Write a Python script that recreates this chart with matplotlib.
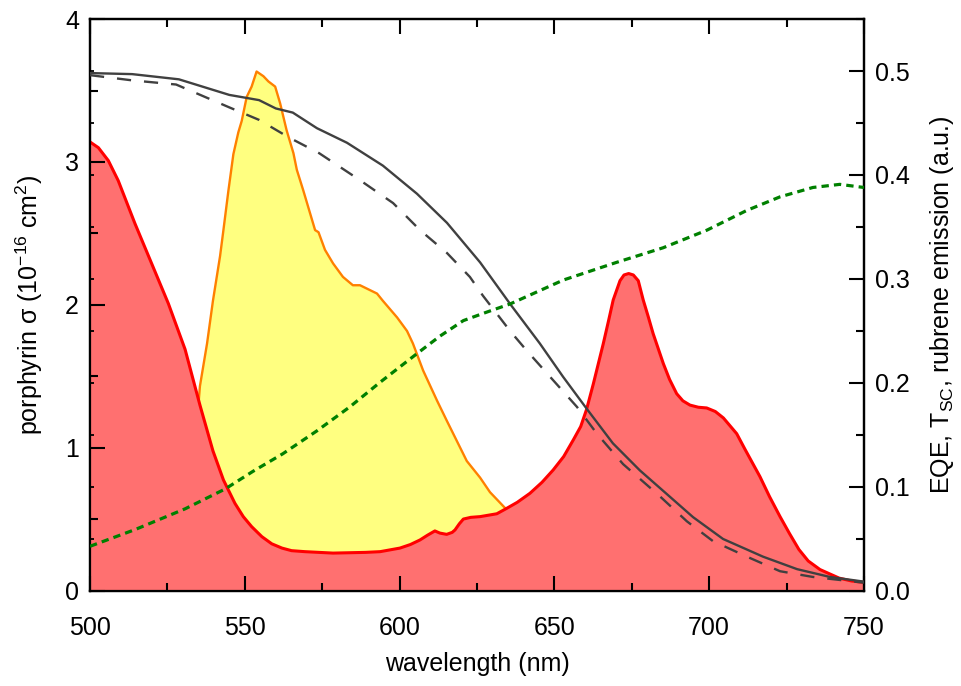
import matplotlib
matplotlib.use("Agg")
import matplotlib.pyplot as plt
from matplotlib.ticker import MultipleLocator

plt.rcParams['font.family'] = ['Liberation Sans', 'DejaVu Sans']
plt.rcParams['mathtext.fontset'] = 'custom'
plt.rcParams['mathtext.rm'] = 'Liberation Sans'
plt.rcParams['mathtext.it'] = 'Liberation Sans'
plt.rcParams['mathtext.default'] = 'regular'

# porphyrin absorption cross-section (left axis, 1e-16 cm^2)
por_wl = [500, 502.7, 505.9, 509.1, 514.5, 519.9, 525.3, 530.7, 535.5, 539.7, 543.1,
          546.8, 549.5, 552.2, 555.5, 558.7, 562, 565.1, 569.4, 578.5, 589, 593.7, 600.1, 603.5,
          606.6, 609, 611.4, 613, 615.2, 617, 617.9, 619.3, 620.6, 623, 626, 631.4, 634.6, 638,
          642.1, 646, 649.6, 653, 656.1, 658.5, 660.4, 662.6, 665.8, 667.5, 669.0, 671.2, 672.5,
          674.0, 675.5, 677.1, 678.7, 680.3, 681.9, 685.2, 687.2, 689.5, 691.5, 693.8, 696.5,
          699.2, 702, 704.6, 708.9, 711.6, 716.4, 719.5, 722.9, 726, 729, 732, 735.8, 742, 746, 750]
por_sig = [3.14, 3.10, 3.01, 2.87, 2.57, 2.29, 2.01, 1.69, 1.30, 0.98, 0.776,
           0.613, 0.52, 0.45, 0.38, 0.33, 0.30, 0.282, 0.275, 0.265, 0.27, 0.275, 0.30, 0.325,
           0.357, 0.39, 0.42, 0.405, 0.396, 0.41, 0.427, 0.47, 0.503, 0.515, 0.52, 0.54, 0.578, 0.62,
           0.683, 0.76, 0.846, 0.94, 1.056, 1.15, 1.27, 1.45, 1.73, 1.89, 2.035, 2.17, 2.21,
           2.22, 2.21, 2.17, 2.035, 1.92, 1.80, 1.59, 1.48, 1.38, 1.33, 1.30, 1.285,
           1.28, 1.255, 1.21, 1.10, 0.99, 0.80, 0.66, 0.52, 0.40, 0.29, 0.21, 0.15, 0.09, 0.07, 0.06]

# rubrene emission (right axis, a.u.)
rub_wl = [515, 520, 525, 530, 534.9, 535.5, 537.8, 539.7, 542.0, 543.0, 544.7, 546.3, 547.9,
          549.0, 550.6, 552.2, 553.8, 556.0, 557.6, 559.8, 561.4, 563.5, 565.7, 566.8, 568.9,
          571.1, 572.7, 573.8, 575.9, 578.5, 581.7, 584.9, 587.2, 592.7, 594.6, 599.2, 602.4,
          604.3, 607.6, 612.1, 615.2, 621.7, 626, 629.2, 634, 640, 650, 660, 670]
rub_em = [0.0, 0.03, 0.07, 0.12, 0.175, 0.197, 0.238, 0.279, 0.322, 0.345, 0.385, 0.420, 0.441,
          0.452, 0.475, 0.485, 0.4995, 0.495, 0.490, 0.485, 0.469, 0.443, 0.421, 0.405, 0.385,
          0.363, 0.347, 0.345, 0.328, 0.315, 0.302, 0.294, 0.294, 0.286, 0.279, 0.263, 0.250,
          0.238, 0.212, 0.183, 0.164, 0.125, 0.109, 0.095, 0.080, 0.06, 0.03, 0.01, 0.0]

# EQE (solid, right axis)
eqe_wl = [500, 513.6, 528.7, 545, 554.6, 560, 565.5, 573.3, 583, 594.6, 605.6, 615.3, 626,
          635.7, 645.3, 652.8, 660.5, 668.9, 677.6, 686.4, 694.8, 704.5, 717.4, 728.4, 739, 750]
eqe = [0.498, 0.497, 0.492, 0.477, 0.472, 0.464, 0.460, 0.445, 0.431, 0.409, 0.382, 0.354, 0.316,
       0.276, 0.238, 0.206, 0.175, 0.142, 0.116, 0.093, 0.071, 0.050, 0.033, 0.021, 0.0135, 0.009]

# T_SC (dashed, right axis)
tsc_wl = [500, 513.6, 527.8, 545, 554.6, 564.3, 574, 587.2, 597.9, 606.6, 615.3, 622.7, 626.9,
          635.7, 641.1, 648.6, 657.3, 663.8, 672.2, 684.1, 692.8, 701.2, 712.2, 722.9, 733.5, 750]
tsc = [0.496, 0.491, 0.487, 0.465, 0.453, 0.436, 0.421, 0.395, 0.373, 0.347, 0.325, 0.302, 0.284,
       0.250, 0.231, 0.206, 0.177, 0.151, 0.122, 0.091, 0.067, 0.048, 0.033, 0.019, 0.0135, 0.008]

# green dotted curve (right axis)
grn_wl = [500, 514.5, 530.7, 543.6, 552.6, 562.3, 573.3, 583.9, 593.7, 605.5, 613, 620.6, 628,
          635.7, 652.9, 670.1, 685.1, 699.3, 712.2, 722.9, 733.5, 742.2, 750]
grn = [0.043, 0.059, 0.079, 0.098, 0.115, 0.132, 0.154, 0.177, 0.2007, 0.228, 0.245, 0.260, 0.268,
       0.276, 0.299, 0.316, 0.330, 0.347, 0.366, 0.379, 0.388, 0.391, 0.388]

FS = 18

fig = plt.figure(figsize=(9.61, 6.86), dpi=100)
ax = fig.add_axes([0.0937, 0.1385, 0.8053, 0.8338])
ax2 = ax.twinx()
ax3 = ax.twinx()

# left axes drawn above right axes (red fill over yellow fill)
ax.set_zorder(ax2.get_zorder() + 2)
ax3.set_zorder(ax2.get_zorder() + 3)
ax.patch.set_visible(False)

ax2.fill_between(rub_wl, rub_em, 0, color='#FFFF80', lw=0, zorder=1)
ax2.plot(rub_wl, rub_em, color='#FF8000', lw=1.7, zorder=2)

ax.fill_between(por_wl, por_sig, 0, color='#FF7070', lw=0, zorder=1)
ax.plot(por_wl, por_sig, color='#FF0000', lw=2.2, zorder=2)

# right-scale lines drawn on top of the red fill
ax3.plot(eqe_wl, eqe, color='#404040', lw=1.7, zorder=3)
ax3.plot(tsc_wl, tsc, color='#404040', lw=1.7, zorder=3, dashes=(6, 5.5))
ax3.plot(grn_wl, grn, color='#008000', lw=2.3, zorder=3, dashes=(2.3, 1.6))

ax.set_xlim(500, 750)
ax.set_ylim(0, 4)
ax2.set_ylim(0, 0.55)
ax3.set_ylim(0, 0.55)

ax.xaxis.set_major_locator(MultipleLocator(50))
ax.xaxis.set_minor_locator(MultipleLocator(25))
ax.yaxis.set_major_locator(MultipleLocator(1))
ax.yaxis.set_minor_locator(MultipleLocator(0.5))
ax2.yaxis.set_major_locator(MultipleLocator(0.1))
ax2.yaxis.set_minor_locator(MultipleLocator(0.05))
ax2.yaxis.set_major_formatter(plt.FuncFormatter(lambda v, p: f"{v:.1f}"))
ax3.yaxis.set_major_locator(MultipleLocator(0.1))
ax3.yaxis.set_minor_locator(MultipleLocator(0.05))

ax.tick_params(axis='x', which='both', direction='in', top=True, bottom=True,
               labelsize=FS, width=1.5, pad=18)
ax.tick_params(axis='x', which='major', length=11)
ax.tick_params(axis='x', which='minor', length=6)
ax.tick_params(axis='y', which='both', direction='in', left=True, right=False,
               labelsize=FS, width=1.5, pad=8)
ax.tick_params(axis='y', which='major', length=11)
ax.tick_params(axis='y', which='minor', length=6)
ax2.tick_params(axis='y', which='both', direction='in', right=True, left=False,
                labelsize=FS, width=1.5, pad=8)
ax2.tick_params(axis='y', which='major', length=11)
ax2.tick_params(axis='y', which='minor', length=6)
# tiny right-scale ticks on the left spine
ax3.tick_params(axis='y', which='both', direction='in', left=True, right=False,
                labelleft=False, labelright=False, length=3, width=1.3)
for s in ax3.spines.values():
    s.set_visible(False)

for a in (ax, ax2):
    for s in a.spines.values():
        s.set_linewidth(1.6)

ax.set_xlabel('wavelength (nm)', fontsize=FS, labelpad=9)
ax.set_ylabel('porphyrin σ (10$^{-16}$ cm$^{2}$)', fontsize=FS, labelpad=14)
ax2.set_ylabel('EQE, T$_{SC}$, rubrene emission (a.u.)', fontsize=FS, rotation=90,
               labelpad=13)

fig.savefig('out.png', dpi=100)
